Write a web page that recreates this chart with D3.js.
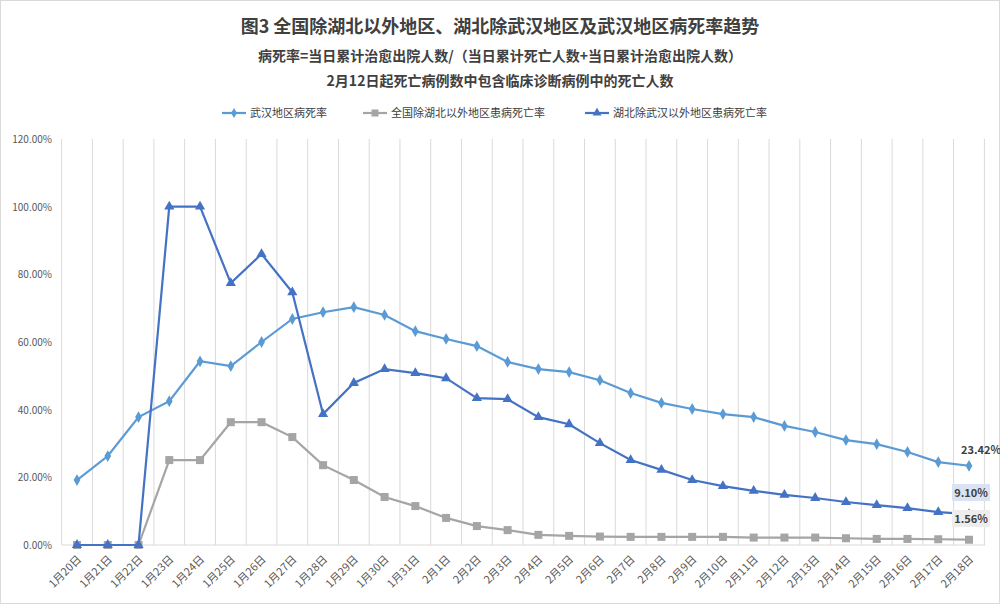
<!DOCTYPE html><html><head><meta charset="utf-8"><script src="https://cdn.jsdelivr.net/npm/d3@7"></script>
<style>body{margin:0;background:#fff}text{font-family:"Noto Sans CJK SC",sans-serif}</style></head><body><svg id="c" width="1000" height="604"></svg><script>
const categories=["1月20日","1月21日","1月22日","1月23日","1月24日","1月25日","1月26日","1月27日","1月28日","1月29日","1月30日","1月31日","2月1日","2月2日","2月3日","2月4日","2月5日","2月6日","2月7日","2月8日","2月9日","2月10日","2月11日","2月12日","2月13日","2月14日","2月15日","2月16日","2月17日","2月18日"];
const wuhan=[19.2,26.3,37.8,42.5,54.3,52.9,60,66.8,68.8,70.3,68,63.2,60.9,58.8,54.1,52,51.1,48.7,44.9,42,40.2,38.7,37.8,35.2,33.4,31,29.8,27.5,24.5,23.42];
const national=[0,0,0,25.1,25.1,36.3,36.3,31.9,23.6,19.2,14.2,11.5,8,5.6,4.4,3,2.7,2.5,2.4,2.4,2.4,2.4,2.2,2.2,2.2,2.0,1.8,1.8,1.7,1.56];
const hubei=[0,0,0,100,100,77.4,86,74.7,38.7,47.9,52,50.8,49.3,43.4,43.1,37.8,35.7,30.1,25.1,22.2,19.2,17.4,16,14.8,13.9,12.7,11.8,10.9,9.7,9.10];
const yTicks=[0,20,40,60,80,100,120];
const seriesNames=["武汉地区病死率","全国除湖北以外地区患病死亡率","湖北除武汉以外地区患病死亡率"];
const svg=d3.select("#c");
svg.append("rect").attr("x",0.5).attr("y",0.5).attr("width",999).attr("height",603).attr("fill","#fff").attr("stroke","#d9d9d9");
const x=d3.scalePoint().domain(categories).range([77,969]).padding(0);
const y=d3.scaleLinear().domain([0,120]).range([545,139]);
const g=svg.append("g");
// vertical gridlines between categories
const step=x.step();
for(let i=0;i<=categories.length;i++){const xx=x(categories[0])-step/2+i*step;g.append("line").attr("x1",xx).attr("x2",xx).attr("y1",139).attr("y2",545).attr("stroke","#d9d9d9");}
g.append("line").attr("x1",62).attr("x2",985).attr("y1",545).attr("y2",545).attr("stroke","#d9d9d9");
yTicks.forEach(t=>g.append("text").attr("x",52).attr("y",y(t)+4).attr("text-anchor","end").attr("font-size",10).attr("fill","#595959").attr("font-family","Liberation Serif").text(t.toFixed(2)+"%"));
categories.forEach(c=>g.append("text").attr("transform",`translate(${x(c)+5},${560}) rotate(-45)`).attr("text-anchor","end").attr("font-size",11).attr("fill","#595959").text(c));
const line=d3.line().x((d,i)=>x(categories[i])).y(d=>y(d));
const cols=["#5b9bd5","#a5a5a5","#4472c4"];
[wuhan,national,hubei].forEach((s,k)=>{
 g.append("path").datum(s).attr("d",line).attr("fill","none").attr("stroke",cols[k]).attr("stroke-width",2.2);
 s.forEach((v,i)=>{const cx=x(categories[i]),cy=y(v);
  if(k===0)g.append("path").attr("d",d3.symbol(d3.symbolDiamond,40)()).attr("transform",`translate(${cx},${cy})`).attr("fill",cols[k]);
  else if(k===1)g.append("rect").attr("x",cx-4).attr("y",cy-4).attr("width",8).attr("height",8).attr("fill",cols[k]);
  else g.append("path").attr("d",d3.symbol(d3.symbolTriangle,45)()).attr("transform",`translate(${cx},${cy})`).attr("fill",cols[k]);});
});
// end labels
const last=categories.length-1;
g.append("text").attr("x",x(categories[last])-8).attr("y",y(wuhan[last])-12).attr("font-size",11).attr("font-weight","bold").attr("fill","#404040").attr("font-family","Liberation Serif").text(wuhan[last].toFixed(2)+"%");
[[hubei,"#dae3f3",496],[national,"#ededed",522]].forEach(([s,bg,yy])=>{
 g.append("rect").attr("x",952).attr("y",yy-12).attr("width",38).attr("height",17).attr("fill",bg);
 g.append("text").attr("x",971).attr("y",yy+1).attr("text-anchor","middle").attr("font-size",11).attr("font-weight","bold").attr("fill","#404040").attr("font-family","Liberation Serif").text(s[last].toFixed(2)+"%");
});
// titles
svg.append("text").attr("x",500).attr("y",33).attr("text-anchor","middle").attr("font-size",18).attr("font-weight","bold").attr("fill","#404040").text("图3 全国除湖北以外地区、湖北除武汉地区及武汉地区病死率趋势");
svg.append("text").attr("x",500).attr("y",61).attr("text-anchor","middle").attr("font-size",14).attr("font-weight","bold").attr("fill","#404040").text("病死率=当日累计治愈出院人数/（当日累计死亡人数+当日累计治愈出院人数）");
svg.append("text").attr("x",500).attr("y",86).attr("text-anchor","middle").attr("font-size",14).attr("font-weight","bold").attr("fill","#404040").text("2月12日起死亡病例数中包含临床诊断病例中的死亡人数");
// legend
const lx=[222,363,585];
seriesNames.forEach((n,k)=>{const L=svg.append("g").attr("transform",`translate(${lx[k]},113)`);
 L.append("line").attr("x1",0).attr("x2",24).attr("stroke",cols[k]).attr("stroke-width",2.2);
 if(k===0)L.append("path").attr("d",d3.symbol(d3.symbolDiamond,30)()).attr("transform","translate(12,0)").attr("fill",cols[k]);
 else if(k===1)L.append("rect").attr("x",8.5).attr("y",-3.5).attr("width",7).attr("height",7).attr("fill",cols[k]);
 else L.append("path").attr("d",d3.symbol(d3.symbolTriangle,35)()).attr("transform","translate(12,0)").attr("fill",cols[k]);
 L.append("text").attr("x",28).attr("y",4).attr("font-size",11).attr("fill","#404040").text(n);});
</script></body></html>
